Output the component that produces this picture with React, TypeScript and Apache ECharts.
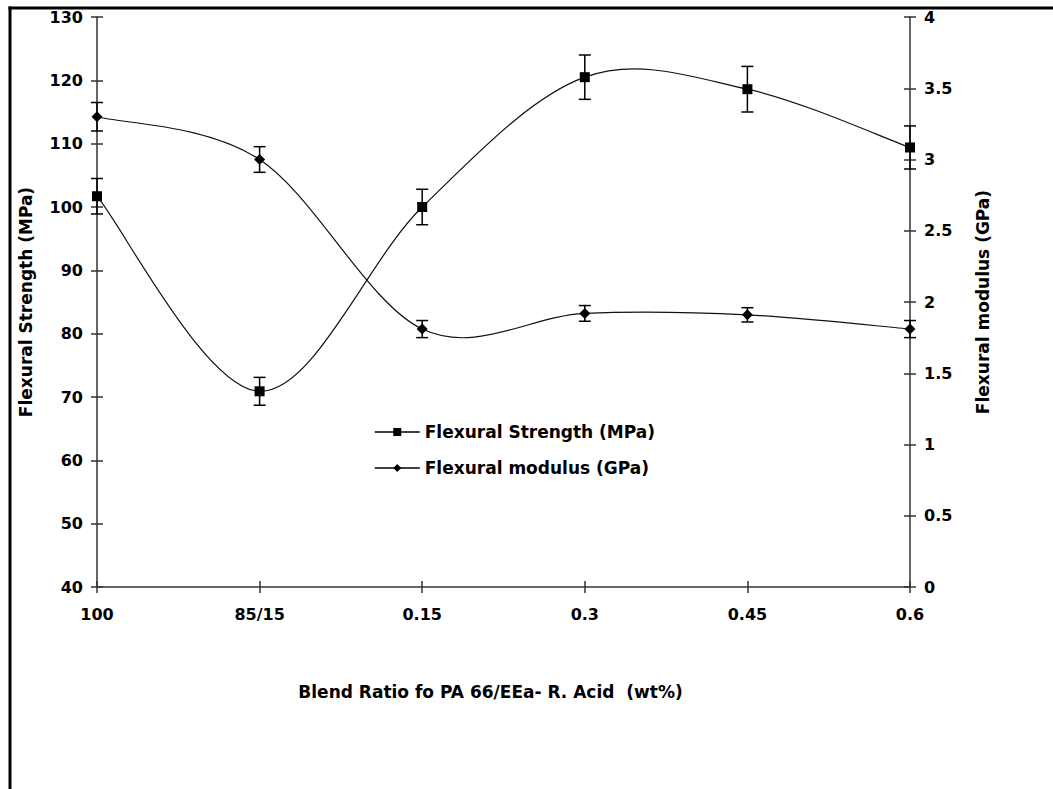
import React, { useEffect, useRef } from 'react';
import * as echarts from 'echarts';

// Blend ratios on the category axis
const categories = ['100', '85/15', '0.15', '0.3', '0.45', '0.6'];

// Flexural strength (MPa), left axis
const strength = [101.7, 70.9, 100.0, 120.5, 118.6, 109.4];
const strengthErr = [2.8, 2.2, 2.8, 3.5, 3.6, 3.4];

// Flexural modulus (GPa), right axis
const modulus = [3.3, 3.0, 1.81, 1.92, 1.91, 1.81];
const modulusErr = [0.1, 0.09, 0.06, 0.055, 0.05, 0.06];

const strengthMin = 40;
const strengthMax = 130;
const strengthStep = 10;
const modulusMin = 0;
const modulusMax = 4;
const modulusStep = 0.5;

const STRENGTH_NAME = 'Flexural Strength (MPa)';
const MODULUS_NAME = 'Flexural modulus (GPa)';
const X_NAME = 'Blend Ratio fo PA 66/EEa- R. Acid  (wt%)';

const FONT = 'DejaVu Sans';
const INK = '#000';
const AXIS = '#333';

// Catmull-Rom style smoothed curve, one bezier segment per data point
function curveRenderer(values: number[]) {
  return (params: any, api: any) => {
    const i = params.dataIndex;
    const n = values.length;
    if (i >= n - 1) return { type: 'group', children: [] };
    const pt = (k: number) => {
      const j = Math.max(0, Math.min(n - 1, k));
      return api.coord([j, values[j]]);
    };
    const p0 = pt(i - 1);
    const p1 = pt(i);
    const p2 = pt(i + 1);
    const p3 = pt(i + 2);
    return {
      type: 'bezierCurve',
      shape: {
        x1: p1[0],
        y1: p1[1],
        x2: p2[0],
        y2: p2[1],
        cpx1: p1[0] + (p2[0] - p0[0]) / 6,
        cpy1: p1[1] + (p2[1] - p0[1]) / 6,
        cpx2: p2[0] - (p3[0] - p1[0]) / 6,
        cpy2: p2[1] - (p3[1] - p1[1]) / 6,
      },
      style: { stroke: '#111', lineWidth: 1.2, fill: null },
      silent: true,
    };
  };
}

// Vertical error bar with caps
function errorBarRenderer(params: any, api: any) {
  const i = api.value(0);
  const lo = api.coord([i, api.value(1)]);
  const hi = api.coord([i, api.value(2)]);
  const half = 6;
  const style = { stroke: INK, lineWidth: 1.5 };
  return {
    type: 'group',
    children: [
      { type: 'line', shape: { x1: lo[0], y1: lo[1], x2: hi[0], y2: hi[1] }, style },
      { type: 'line', shape: { x1: lo[0] - half, y1: lo[1], x2: lo[0] + half, y2: lo[1] }, style },
      { type: 'line', shape: { x1: hi[0] - half, y1: hi[1], x2: hi[0] + half, y2: hi[1] }, style },
    ],
  };
}

const labelStyle = {
  fontFamily: FONT,
  fontWeight: 'bold' as const,
  fontSize: 16,
  color: INK,
};

const nameStyle = {
  fontFamily: FONT,
  fontWeight: 'bold' as const,
  fontSize: 17,
  color: INK,
};

const axisLine = { show: true, lineStyle: { color: AXIS, width: 1.5 } };

export default function App() {
  const ref = useRef<HTMLDivElement>(null);

  useEffect(() => {
    if (!ref.current) return;
    const chart = echarts.init(ref.current, undefined, { renderer: 'svg' });

    const option: any = {
      animation: false,
      backgroundColor: '#fff',
      grid: { left: 97, right: 143, top: 17, bottom: 202, containLabel: false },
      legend: {
        orient: 'vertical',
        left: 369,
        top: 417,
        itemWidth: 45,
        itemHeight: 10,
        itemGap: 16,
        selectedMode: false,
        textStyle: { ...nameStyle, fontSize: 17, lineHeight: 20 },
        lineStyle: { color: INK, width: 1.5, opacity: 1 },
        data: [STRENGTH_NAME, MODULUS_NAME],
      },
      xAxis: [
        {
          type: 'category',
          data: categories,
          boundaryGap: false,
          axisLine,
          axisTick: { show: true, length: 6, lineStyle: { color: AXIS, width: 1.5 } },
          axisLabel: { ...labelStyle, margin: 19 },
          splitLine: { show: false },
          name: X_NAME,
          nameLocation: 'middle',
          nameGap: 96,
          nameTextStyle: { ...nameStyle, padding: [0, 26, 0, 0] },
        },
        {
          // inward half of the crossing ticks
          type: 'category',
          data: categories,
          boundaryGap: false,
          position: 'bottom',
          axisLine: { show: false },
          axisTick: { show: true, inside: true, length: 6, lineStyle: { color: AXIS, width: 1.5 } },
          axisLabel: { show: false },
          splitLine: { show: false },
        },
      ],
      yAxis: [
        {
          type: 'value',
          position: 'left',
          min: strengthMin,
          max: strengthMax,
          interval: strengthStep,
          axisLine,
          axisTick: { show: true, length: 6, lineStyle: { color: AXIS, width: 1.5 } },
          axisLabel: { ...labelStyle, margin: 14 },
          splitLine: { show: false },
          name: STRENGTH_NAME,
          nameLocation: 'middle',
          nameRotate: 90,
          nameGap: 63,
          nameTextStyle: nameStyle,
        },
        {
          type: 'value',
          position: 'right',
          min: modulusMin,
          max: modulusMax,
          interval: modulusStep,
          axisLine,
          axisTick: { show: true, length: 6, lineStyle: { color: AXIS, width: 1.5 } },
          axisLabel: { ...labelStyle, margin: 14 },
          splitLine: { show: false },
          name: MODULUS_NAME,
          nameLocation: 'middle',
          nameRotate: 90,
          nameGap: 64,
          nameTextStyle: nameStyle,
        },
        {
          type: 'value',
          position: 'left',
          min: strengthMin,
          max: strengthMax,
          interval: strengthStep,
          axisLine: { show: false },
          axisTick: { show: true, inside: true, length: 6, lineStyle: { color: AXIS, width: 1.5 } },
          axisLabel: { show: false },
          splitLine: { show: false },
        },
        {
          type: 'value',
          position: 'right',
          min: modulusMin,
          max: modulusMax,
          interval: modulusStep,
          axisLine: { show: false },
          axisTick: { show: true, inside: true, length: 6, lineStyle: { color: AXIS, width: 1.5 } },
          axisLabel: { show: false },
          splitLine: { show: false },
        },
      ],
      series: [
        {
          type: 'custom',
          name: 'strength-curve',
          xAxisIndex: 0,
          yAxisIndex: 0,
          renderItem: curveRenderer(strength),
          data: strength.map((v, i) => [i, v]),
          z: 2,
        },
        {
          type: 'custom',
          name: 'modulus-curve',
          xAxisIndex: 0,
          yAxisIndex: 1,
          renderItem: curveRenderer(modulus),
          data: modulus.map((v, i) => [i, v]),
          z: 2,
        },
        {
          type: 'custom',
          name: 'strength-error',
          xAxisIndex: 0,
          yAxisIndex: 0,
          renderItem: errorBarRenderer,
          encode: { x: 0, y: [1, 2] },
          data: strength.map((v, i) => [i, v - strengthErr[i], v + strengthErr[i]]),
          z: 3,
        },
        {
          type: 'custom',
          name: 'modulus-error',
          xAxisIndex: 0,
          yAxisIndex: 1,
          renderItem: errorBarRenderer,
          encode: { x: 0, y: [1, 2] },
          data: modulus.map((v, i) => [i, v - modulusErr[i], v + modulusErr[i]]),
          z: 3,
        },
        {
          type: 'line',
          name: STRENGTH_NAME,
          xAxisIndex: 0,
          yAxisIndex: 0,
          data: strength,
          symbol: 'rect',
          symbolSize: 10,
          showAllSymbol: true,
          itemStyle: { color: INK },
          lineStyle: { opacity: 0 },
          z: 5,
        },
        {
          type: 'line',
          name: MODULUS_NAME,
          xAxisIndex: 0,
          yAxisIndex: 1,
          data: modulus,
          symbol: 'diamond',
          symbolSize: 11,
          showAllSymbol: true,
          itemStyle: { color: INK },
          lineStyle: { opacity: 0 },
          z: 5,
        },
      ],
      graphic: [
        {
          type: 'line',
          shape: { x1: 10, y1: 6.5, x2: 10, y2: 789 },
          style: { stroke: INK, lineWidth: 3 },
        },
        {
          type: 'line',
          shape: { x1: 8.5, y1: 8, x2: 1053, y2: 8 },
          style: { stroke: INK, lineWidth: 3 },
        },
      ],
    };

    chart.setOption(option);
    return () => chart.dispose();
  }, []);

  return (
    <div
      ref={ref}
      style={{ position: 'absolute', left: 0, top: 0, width: 1053, height: 789, background: '#fff' }}
    />
  );
}
